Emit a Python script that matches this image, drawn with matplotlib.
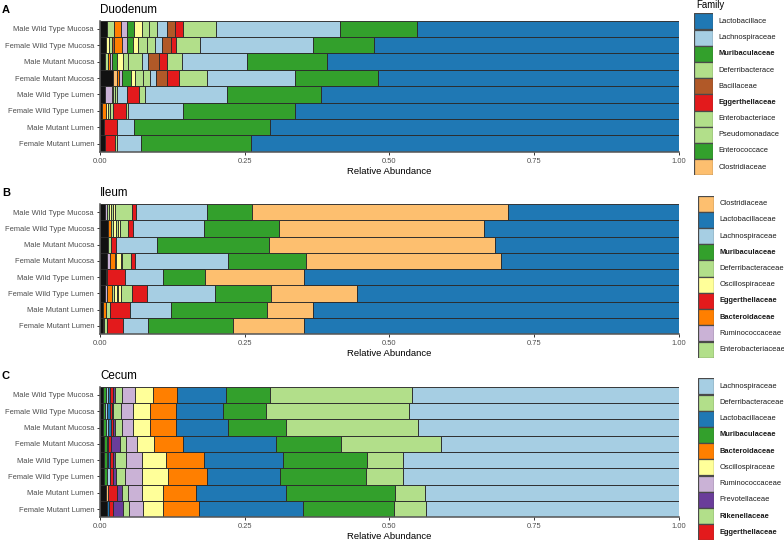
import matplotlib.pyplot as plt
import numpy as np

plt.rcParams['font.family'] = ['Liberation Sans', 'DejaVu Sans']

W, H = 784, 541

samples = ['Male Wild Type Mucosa', 'Female Wild Type Mucosa', 'Male Mutant Mucosa',
           'Female Mutant Mucosa', 'Male Wild Type Lumen', 'Female Wild Type Lumen',
           'Male Mutant Lumen', 'Female Mutant Lumen']
xticks = [0, 0.25, 0.5, 0.75, 1.0]
xticklabels = ['0.00', '0.25', '0.50', '0.75', '1.00']

# colour keys (paired palette)
pal = {'lb': '#A6CEE3', 'db': '#1F78B4', 'lg': '#B2DF8A', 'dg': '#33A02C',
       'rd': '#E31A1C', 'lo': '#FDBF6F', 'or': '#FF7F00', 'lv': '#CAB2D6',
       'pu': '#6A3D9A', 'ye': '#FFFF99', 'br': '#B15928', 'k': '#111111'}

# ---- Duodenum: stack order left -> right, one row per sample
duo_stack = ['k', 'ye', 'lg', 'br', 'lo', 'or', 'lv', 'dg', 'ye', 'lg', 'lg', 'lb', 'br', 'rd', 'lg', 'lb', 'dg', 'db']
duo_values = [
    [0.0125, 0, 0.0123, 0, 0, 0.011, 0.0103, 0.0128, 0.0132, 0.013, 0.014, 0.016, 0.014, 0.015, 0.056, 0.215, 0.133, 0.452],
    [0.011, 0.004, 0.005, 0.004, 0, 0.0134, 0.0098, 0.0093, 0.0097, 0.0144, 0.0144, 0.0127, 0.015, 0.0086, 0.0415, 0.1959, 0.1048, 0.5265],
    [0.0086, 0, 0.0058, 0, 0, 0.003, 0.003, 0.0098, 0.0098, 0.0084, 0.0236, 0.0115, 0.019, 0.0125, 0.026, 0.1136, 0.1371, 0.6083],
    [0.0219, 0, 0, 0, 0.0069, 0.0046, 0.004, 0.0156, 0.0075, 0.0144, 0.0115, 0.0104, 0.0184, 0.0218, 0.0473, 0.1527, 0.144, 0.519],
    [0.0086, 0, 0, 0, 0, 0, 0.0116, 0, 0.003, 0.003, 0.0038, 0.016, 0, 0.022, 0.0098, 0.1412, 0.162, 0.619],
    [0.003, 0, 0, 0, 0, 0.0075, 0, 0, 0.004, 0.003, 0.0045, 0, 0, 0.0229, 0.0041, 0.0939, 0.1941, 0.663],
    [0.0069, 0, 0, 0, 0, 0, 0, 0, 0, 0, 0, 0, 0, 0.0219, 0.0012, 0.0288, 0.235, 0.7062],
    [0.0086, 0, 0, 0, 0, 0, 0, 0, 0, 0, 0, 0, 0, 0.0173, 0.0029, 0.0415, 0.1901, 0.7396],
]
duo_legend = ['Lactobacillace', 'Lachnospiraceae', 'Muribaculaceae', 'Deferribacterace', 'Bacillaceae',
              'Eggerthellaceae', 'Enterobacteriace', 'Pseudomonadace', 'Enterococcace', 'Clostridiaceae']
duo_legend_colors = ['db', 'lb', 'dg', 'lg', 'br', 'rd', 'lg', 'lg', 'dg', 'lo']
duo_bold = ['Muribaculaceae', 'Eggerthellaceae']

# ---- Ileum
ile_stack = ['k', 'lv', 'or', 'lg', 'ye', 'lg', 'ye', 'lg', 'rd', 'lb', 'dg', 'lo', 'db']
ile_values = [
    [0.0086, 0.003, 0, 0.0045, 0.003, 0.004, 0.0028, 0.0295, 0.0062, 0.1239, 0.0766, 0.4424, 0.2955],
    [0.0144, 0, 0.004, 0.0046, 0.0046, 0.0041, 0.0029, 0.0144, 0.0086, 0.1221, 0.1302, 0.3525, 0.3376],
    [0.0144, 0, 0, 0.004, 0, 0, 0, 0, 0.0096, 0.0699, 0.1947, 0.39, 0.3174],
    [0.0115, 0.0058, 0.0086, 0.002, 0.0078, 0.002, 0, 0.0153, 0.0075, 0.1601, 0.1354, 0.3364, 0.3076],
    [0.0098, 0, 0, 0.003, 0, 0, 0, 0, 0.0304, 0.0662, 0.0721, 0.171, 0.6475],
    [0.0086, 0.003, 0.0086, 0.004, 0.0046, 0.0029, 0.004, 0.019, 0.0259, 0.1181, 0.0962, 0.1498, 0.5553],
    [0.0058, 0, 0.0046, 0.0069, 0, 0, 0, 0, 0.0345, 0.0703, 0.1659, 0.0807, 0.6313],
    [0.0046, 0, 0.003, 0.004, 0, 0, 0, 0, 0.0287, 0.0432, 0.1469, 0.1221, 0.6475],
]
ile_legend = ['Clostridiaceae', 'Lactobacillaceae', 'Lachnospiraceae', 'Muribaculaceae', 'Deferribacteraceae',
              'Oscillospiraceae', 'Eggerthellaceae', 'Bacteroidaceae', 'Ruminococcaceae', 'Enterobacteriaceae']
ile_legend_colors = ['lo', 'db', 'lb', 'dg', 'lg', 'ye', 'rd', 'or', 'lv', 'lg']
ile_bold = ['Muribaculaceae', 'Eggerthellaceae', 'Bacteroidaceae']

# ---- Cecum
cec_stack = ['k', 'dg', 'lb', 'db', 'lo', 'rd', 'pu', 'lg', 'lv', 'ye', 'or', 'db', 'dg', 'lg', 'lb']
cec_values = [
    [0.0058, 0.004, 0.004, 0.004, 0, 0.004, 0.0041, 0.0115, 0.0231, 0.0317, 0.0414, 0.0841, 0.0761, 0.2459, 0.4603],
    [0.0058, 0.0028, 0.0043, 0.0044, 0, 0.003, 0.003, 0.0124, 0.0219, 0.0288, 0.0449, 0.0807, 0.0749, 0.2476, 0.4655],
    [0.0058, 0.0046, 0.0035, 0.0045, 0, 0.0035, 0.004, 0.0115, 0.0202, 0.0288, 0.0449, 0.0905, 0.0996, 0.2286, 0.45],
    [0.0069, 0.0046, 0, 0.003, 0, 0.0045, 0.0156, 0.0103, 0.0196, 0.0288, 0.0507, 0.1601, 0.1118, 0.1728, 0.4113],
    [0.0069, 0.0046, 0.003, 0.0028, 0, 0.0046, 0.004, 0.019, 0.0271, 0.042, 0.0657, 0.1371, 0.144, 0.0622, 0.477],
    [0.0069, 0.0058, 0.0046, 0, 0, 0.0046, 0.0057, 0.0156, 0.0288, 0.0461, 0.0674, 0.1256, 0.1486, 0.0633, 0.477],
    [0.0104, 0, 0, 0, 0.004, 0.0144, 0.0086, 0.0116, 0.023, 0.0363, 0.0576, 0.1555, 0.1884, 0.0518, 0.4384],
    [0.0115, 0, 0, 0.0046, 0, 0.0069, 0.0162, 0.0115, 0.023, 0.0357, 0.0623, 0.1797, 0.1566, 0.0553, 0.4367],
]
cec_legend = ['Lachnospiraceae', 'Deferribacteraceae', 'Lactobacillaceae', 'Muribaculaceae', 'Bacteroidaceae',
              'Oscillospiraceae', 'Ruminococcaceae', 'Prevotellaceae', 'Rikenellaceae', 'Eggerthellaceae']
cec_legend_colors = ['lb', 'lg', 'db', 'dg', 'or', 'ye', 'lv', 'pu', 'lg', 'rd']
cec_bold = ['Muribaculaceae', 'Bacteroidaceae', 'Rikenellaceae', 'Eggerthellaceae']


def box(x0, x1, ytop, ybot):
    # pixel box -> figure fraction
    return [x0 / W, 1 - ybot / H, (x1 - x0) / W, (ybot - ytop) / H]


def draw_panel(ax, stack, values, title, letter, ytop):
    vals = np.array(values)
    y = np.arange(len(samples))
    left = np.zeros(len(samples))
    for j, c in enumerate(stack):
        w = vals[:, j]
        m = w > 0
        ax.barh(y[m], w[m], left=left[m], height=1, color=pal[c],
                edgecolor='#2b2b2b', linewidth=0.65)
        left += w
    ax.set_xlim(0, 1)
    ax.set_ylim(len(samples) - 0.5, -0.5)
    ax.set_yticks(y)
    ax.set_yticklabels(samples)
    ax.set_xticks(xticks)
    ax.set_xticklabels(xticklabels)
    ax.tick_params(labelsize=5.45, labelcolor='#4d4d4d', color='#333333',
                   length=2.5, width=0.7, pad=1.8)
    ax.set_xlabel('Relative Abundance', fontsize=6.8, labelpad=1.5)
    for s in ['top', 'right']:
        ax.spines[s].set_visible(False)
    for s in ['left', 'bottom']:
        ax.spines[s].set_color('#555555')
        ax.spines[s].set_linewidth(1.1)
    fig.text(100 / W, 1 - (ytop - 8) / H, title, fontsize=8.4, va='baseline', ha='left')
    fig.text(2 / W, 1 - (ytop - 8) / H, letter, fontsize=8, fontweight='bold', va='baseline', ha='left')


def draw_legend(names, colors, bold, x0, x1, ytop):
    lax = fig.add_axes(box(x0, x1, ytop, ytop + 16.2 * len(names)))
    k = np.arange(len(names))
    lax.barh(k, 1, height=1, color=[pal[c] for c in colors], edgecolor='#4a4a4a', linewidth=0.9)
    lax.set_xlim(0, 1)
    lax.set_ylim(len(names) - 0.5, -0.5)
    lax.axis('off')
    for i, n in enumerate(names):
        lax.text(1 + 5.5 / (x1 - x0), i, n, fontsize=5.4, va='center', ha='left',
                 fontweight='bold' if n in bold else 'normal', color='#1a1a1a', clip_on=False)


fig = plt.figure(figsize=(W / 100, H / 100), dpi=100)

ax_a = fig.add_axes(box(100, 679, 20.7, 151.7))
draw_panel(ax_a, duo_stack, duo_values, 'Duodenum', 'A', 20.7)
draw_legend(duo_legend, duo_legend_colors, duo_bold, 694, 713, 13.3)
fig.text(696 / W, 1 - 8 / H, 'Family', fontsize=6.9, va='baseline', ha='left')

ax_b = fig.add_axes(box(100, 679, 204, 334))
draw_panel(ax_b, ile_stack, ile_values, 'Ileum', 'B', 204)
draw_legend(ile_legend, ile_legend_colors, ile_bold, 698, 714, 195.7)

ax_c = fig.add_axes(box(100, 679, 386.7, 517.3))
draw_panel(ax_c, cec_stack, cec_values, 'Cecum', 'C', 386.7)
draw_legend(cec_legend, cec_legend_colors, cec_bold, 698, 714, 378.3)

fig.savefig('out.png', dpi=100)
